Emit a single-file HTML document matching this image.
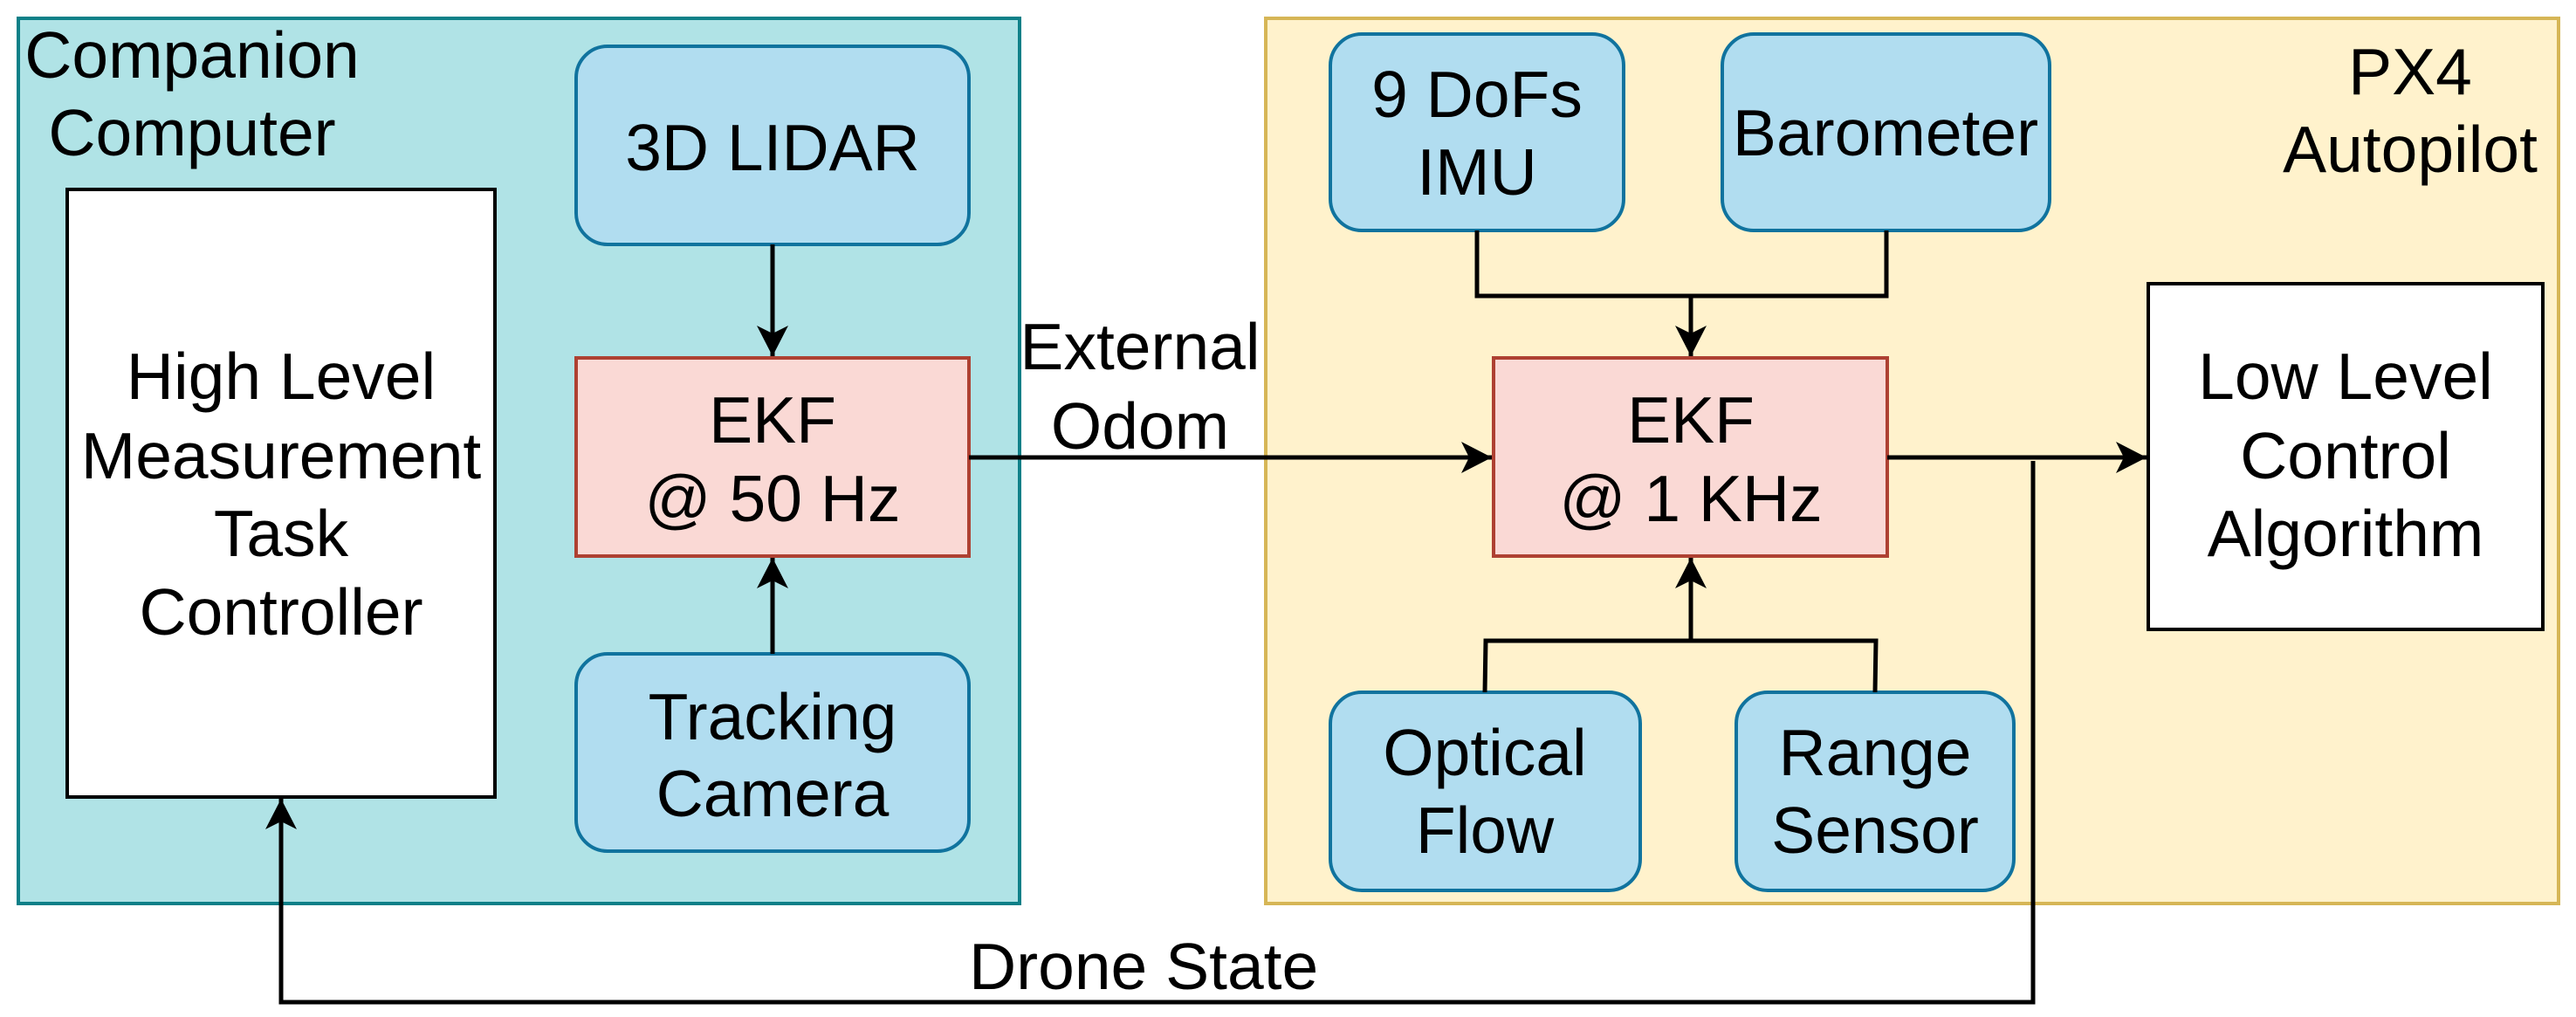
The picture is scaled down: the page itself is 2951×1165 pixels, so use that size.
<!DOCTYPE html>
<html><head><meta charset="utf-8"><style>html,body{margin:0;padding:0;background:#fff}svg{display:block}text{font-family:"Liberation Sans",Arial,sans-serif;font-size:75px;fill:#000}</style></head>
<body>
<svg width="2951" height="1165" viewBox="0 0 2951 1165" xmlns="http://www.w3.org/2000/svg">
<defs>
<marker id="a" markerUnits="userSpaceOnUse" markerWidth="40" markerHeight="40" refX="35" refY="18" orient="auto">
<path d="M0,0 L35,18 L0,36 L9,18 Z" fill="#000"/>
</marker>
</defs>
<!-- containers -->
<rect x="21" y="21" width="1147" height="1014" fill="#b0e3e6" stroke="#0e8088" stroke-width="4"/>
<rect x="1450" y="21" width="1481" height="1014" fill="#fff2cc" stroke="#d6b656" stroke-width="4"/>
<text x="220" y="89" text-anchor="middle">Companion</text>
<text x="220" y="178" text-anchor="middle">Computer</text>
<text x="2761" y="108" text-anchor="middle">PX4</text>
<text x="2761" y="197" text-anchor="middle">Autopilot</text>

<!-- left -->
<rect x="77" y="217" width="490" height="696" fill="#fff" stroke="#000" stroke-width="4"/>
<text x="322" y="457" text-anchor="middle">High Level</text>
<text x="322" y="548" text-anchor="middle">Measurement</text>
<text x="322" y="637" text-anchor="middle">Task</text>
<text x="322" y="727" text-anchor="middle">Controller</text>

<rect x="660" y="53" width="450" height="227" rx="36" fill="#b1ddf0" stroke="#10739e" stroke-width="4"/>
<text x="885" y="195" text-anchor="middle">3D LIDAR</text>
<rect x="660" y="410" width="450" height="227" fill="#fad9d5" stroke="#ae4132" stroke-width="4"/>
<text x="885" y="507" text-anchor="middle">EKF</text>
<text x="885" y="597" text-anchor="middle">@ 50 Hz</text>
<rect x="660" y="749" width="450" height="226" rx="36" fill="#b1ddf0" stroke="#10739e" stroke-width="4"/>
<text x="885" y="847" text-anchor="middle">Tracking</text>
<text x="885" y="935" text-anchor="middle">Camera</text>

<!-- right -->
<rect x="1524" y="39" width="336" height="225" rx="36" fill="#b1ddf0" stroke="#10739e" stroke-width="4"/>
<text x="1692" y="134" text-anchor="middle">9 DoFs</text>
<text x="1692" y="223" text-anchor="middle">IMU</text>
<rect x="1973" y="39" width="375" height="225" rx="36" fill="#b1ddf0" stroke="#10739e" stroke-width="4"/>
<text x="2160" y="178" text-anchor="middle">Barometer</text>
<rect x="1711" y="410" width="451" height="227" fill="#fad9d5" stroke="#ae4132" stroke-width="4"/>
<text x="1937" y="507" text-anchor="middle">EKF</text>
<text x="1937" y="597" text-anchor="middle">@ 1 KHz</text>
<rect x="2461" y="325" width="452" height="396" fill="#fff" stroke="#000" stroke-width="4"/>
<text x="2687" y="457" text-anchor="middle">Low Level</text>
<text x="2687" y="548" text-anchor="middle">Control</text>
<text x="2687" y="637" text-anchor="middle">Algorithm</text>
<rect x="1524" y="793" width="355" height="227" rx="36" fill="#b1ddf0" stroke="#10739e" stroke-width="4"/>
<text x="1701" y="888" text-anchor="middle">Optical</text>
<text x="1701" y="977" text-anchor="middle">Flow</text>
<rect x="1989" y="793" width="318" height="227" rx="36" fill="#b1ddf0" stroke="#10739e" stroke-width="4"/>
<text x="2148" y="888" text-anchor="middle">Range</text>
<text x="2148" y="977" text-anchor="middle">Sensor</text>

<!-- connectors -->
<g fill="none" stroke="#000" stroke-width="5">
<path d="M885,280 L885,408" marker-end="url(#a)"/>
<path d="M885,749 L885,639" marker-end="url(#a)"/>
<path d="M1110,524 L1709,524" marker-end="url(#a)"/>
<path d="M1692,264 L1692,339 L2161,339 L2161,264"/>
<path d="M1937,339 L1937,408" marker-end="url(#a)"/>
<path d="M1701,793 L1702,734 L2149,734 L2148,793"/>
<path d="M1937,734 L1937,639" marker-end="url(#a)"/>
<path d="M2162,524 L2459,524" marker-end="url(#a)"/>
<path d="M2329,528 L2329,1148 L322,1148 L322,915" marker-end="url(#a)"/>
</g>
<text x="1306" y="423" text-anchor="middle">External</text>
<text x="1306" y="514" text-anchor="middle">Odom</text>
<text x="1110" y="1133">Drone State</text>
</svg>
</body></html>
